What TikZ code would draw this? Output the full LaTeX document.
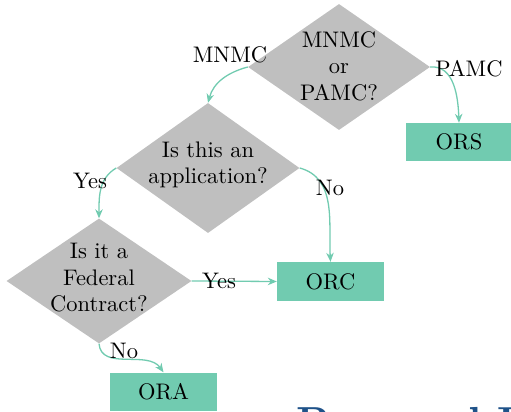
\documentclass[tikz,border=0pt]{standalone}
\usetikzlibrary{shapes.geometric,arrows.meta}
\font\dtf="[lmroman10-regular.otf]" at 22.5pt
\font\ttlf="[lmroman10-bold.otf]" at 42pt
\definecolor{diagray}{RGB}{191,191,191}
\definecolor{boxteal}{RGB}{113,203,176}
\definecolor{titleblue}{RGB}{31,82,137}
\tikzset{
  dia/.style={diamond, fill=diagray, draw=none, inner sep=0pt},
  diatext/.style={align=center, inner sep=0pt, font={\dtf\baselineskip=26.5pt}},
  outbox/.style={rectangle, fill=boxteal, draw=none, minimum width=107pt, minimum height=38pt, inner sep=0pt, font=\dtf},
  lab/.style={anchor=base, inner sep=0pt, font=\dtf},
  conn/.style={draw=boxteal, line width=1.3pt, -{Stealth[length=9pt,width=7.5pt]}},
}
\begin{document}
\begin{tikzpicture}[x=1pt,y=-1pt]
\useasboundingbox (0,0) rectangle (511,412);
\begin{scope}
\clip (0,0) rectangle (511,412);
% diamonds
\node[dia, minimum width=182pt, minimum height=126pt] (d1) at (339,67) {};
\node[diatext] (d1t) at (339,66) {MNMC\\or\\PAMC?};
\node[dia, minimum width=183pt, minimum height=130pt] (d2) at (208,168) {};
\node[diatext] (d2t) at (208,165) {Is this an\\application?};
\node[dia, minimum width=185pt, minimum height=125pt] (d3) at (99,281) {};
\node[diatext] (d3t) at (99,278) {Is it a\\Federal\\Contract?};
% boxes
\node[outbox] (ors) at (459,142) {ORS};
\node[outbox, minimum height=39pt] (orc) at (330.5,281.5) {ORC};
\node[outbox, minimum height=38pt] (ora) at (163.5,391.5) {ORA};
% connectors
\draw[conn] (d1.west) to[out=195,in=75] (d2.north);
\draw[conn] (d1.east) to[out=5,in=92] (ors.north);
\draw[conn] (d2.west) to[out=210,in=90] (d3.north);
\draw[conn] (d2.east) to[out=-15,in=93] (orc.north);
\draw[conn] (d3.east) -- (orc.west);
\draw[conn] (d3.south) to[out=-85,in=125] (ora.north);
% labels
\node[lab] (lmnmc) at (230,63) {MNMC};
\node[lab] (lpamc) at (469,76) {PAMC};
\node[lab] (lyes1) at (90,188) {Yes};
\node[lab] (lno1) at (330,195) {No};
\node[lab] (lyes2) at (219,288) {Yes};
\node[lab] (lno2) at (124,358) {No};
% cropped title
\node[anchor=base west, inner sep=0pt, text=titleblue, font=\ttlf] (title) at (296,436) {Proposal Intake};
\end{scope}
\end{tikzpicture}
\end{document}
